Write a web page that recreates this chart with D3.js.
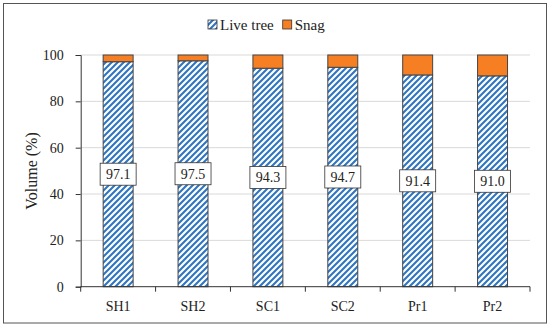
<!DOCTYPE html>
<html>
<head>
<meta charset="utf-8">
<script src="https://cdn.jsdelivr.net/npm/d3@7"></script>
<style>
  body { margin: 0; background: #fff; }
</style>
</head>
<body>
<svg id="chart" width="550" height="327"></svg>
<script>
const sites = ["SH1", "SH2", "SC1", "SC2", "Pr1", "Pr2"];
const liveTree = [97.1, 97.5, 94.3, 94.7, 91.4, 91.0];
const snag = [2.9, 2.5, 5.7, 5.3, 8.6, 9.0];
const yTicks = [0, 20, 40, 60, 80, 100];

const FONT = "'Liberation Serif', 'DejaVu Serif', serif";
const svg = d3.select("#chart").attr("font-family", FONT);
const x = d3.scaleBand().domain(sites).range([80.7, 530]).paddingInner(0.6).paddingOuter(0.3);
const y = d3.scaleLinear().domain([0, 100]).range([286.7, 55]);

// hatch for live trees
const defs = svg.append("defs");
const pat = defs.append("pattern")
    .attr("id", "hatch")
    .attr("patternUnits", "userSpaceOnUse")
    .attr("width", 6).attr("height", 6);
pat.append("rect").attr("width", 6).attr("height", 6).attr("fill", "#fff");
pat.append("path")
    .attr("d", "M-1,7 L7,-1 M-4,4 L4,-4 M2,10 L10,2")
    .attr("stroke", "#2e75c2")
    .attr("stroke-width", 2.1);

// outer frame
svg.append("rect")
    .attr("x", 3.5).attr("y", 3.5)
    .attr("width", 543).attr("height", 319.5)
    .attr("fill", "none").attr("stroke", "#555").attr("stroke-width", 1);

// gridlines
svg.append("g").selectAll("line")
    .data(yTicks.filter(d => d > 0))
    .join("line")
    .attr("x1", 80.7).attr("x2", 530)
    .attr("y1", d => y(d)).attr("y2", d => y(d))
    .attr("stroke", "#d9d9d9").attr("stroke-width", 1);

// bars
const bars = svg.append("g");
bars.selectAll("rect.live")
    .data(sites)
    .join("rect")
    .attr("class", "live")
    .attr("x", d => x(d))
    .attr("width", x.bandwidth())
    .attr("y", (d, i) => y(liveTree[i]))
    .attr("height", (d, i) => y(0) - y(liveTree[i]))
    .attr("fill", "url(#hatch)")
    .attr("stroke", "#444").attr("stroke-width", 1);

bars.selectAll("rect.snag")
    .data(sites)
    .join("rect")
    .attr("class", "snag")
    .attr("x", d => x(d))
    .attr("width", x.bandwidth())
    .attr("y", (d, i) => y(liveTree[i] + snag[i]))
    .attr("height", (d, i) => y(liveTree[i]) - y(liveTree[i] + snag[i]))
    .attr("fill", "#f77f23")
    .attr("stroke", "#444").attr("stroke-width", 1);

// y axis
const yAxis = svg.append("g")
    .attr("transform", "translate(80.7,0)")
    .call(d3.axisLeft(y).tickValues(yTicks).tickSize(5).tickPadding(12));
yAxis.attr("font-family", FONT).attr("font-size", 14);
yAxis.select(".domain").attr("stroke", "#333");
yAxis.selectAll(".tick line").attr("stroke", "#333");
yAxis.selectAll("text").attr("fill", "#222");

// x axis
const xAxis = svg.append("g").attr("transform", "translate(0,286.7)");
xAxis.append("line")
    .attr("x1", 80.7).attr("x2", 530)
    .attr("stroke", "#333");
xAxis.selectAll("line.tk")
    .data(sites.map((d, i) => 80.7 + i * (530 - 80.7) / sites.length).concat([530]))
    .join("line")
    .attr("class", "tk")
    .attr("x1", d => d).attr("x2", d => d)
    .attr("y1", 0).attr("y2", 5)
    .attr("stroke", "#333");
xAxis.selectAll("text")
    .data(sites)
    .join("text")
    .attr("x", d => x(d) + x.bandwidth() / 2)
    .attr("y", 24)
    .attr("text-anchor", "middle")
    .attr("font-size", 14)
    .attr("fill", "#222")
    .text(d => d);

// axis title
svg.append("text")
    .attr("transform", "translate(37,171) rotate(-90)")
    .attr("text-anchor", "middle")
    .attr("font-size", 16)
    .attr("fill", "#222")
    .text("Volume (%)");

// value labels
const lbl = svg.append("g").selectAll("g")
    .data(sites)
    .join("g")
    .attr("transform", (d, i) => `translate(${x(d) + x.bandwidth() / 2},${y(liveTree[i] / 2)})`);
lbl.append("rect")
    .attr("x", -18).attr("y", -11)
    .attr("width", 36).attr("height", 22)
    .attr("fill", "#fff").attr("stroke", "#333").attr("stroke-width", 0.8);
lbl.append("text")
    .attr("text-anchor", "middle")
    .attr("dy", "0.35em")
    .attr("font-size", 14)
    .attr("fill", "#222")
    .text((d, i) => liveTree[i].toFixed(1));

// legend
const legendItems = [
    {name: "Live tree", fill: "url(#hatch)"},
    {name: "Snag", fill: "#f77f23"}
];
const legend = svg.append("g").attr("transform", "translate(208,25)");
let lx = 0;
legendItems.forEach(item => {
    const g = legend.append("g").attr("transform", `translate(${lx},0)`);
    g.append("rect")
        .attr("x", 0).attr("y", -5)
        .attr("width", 9).attr("height", 9)
        .attr("fill", item.fill)
        .attr("stroke", "#333").attr("stroke-width", 0.8);
    const t = g.append("text")
        .attr("x", 12).attr("y", 0)
        .attr("dy", "0.35em")
        .attr("font-size", 15)
        .attr("fill", "#222")
        .text(item.name);
    lx += 12 + t.node().getComputedTextLength() + 9;
});
</script>
</body>
</html>
